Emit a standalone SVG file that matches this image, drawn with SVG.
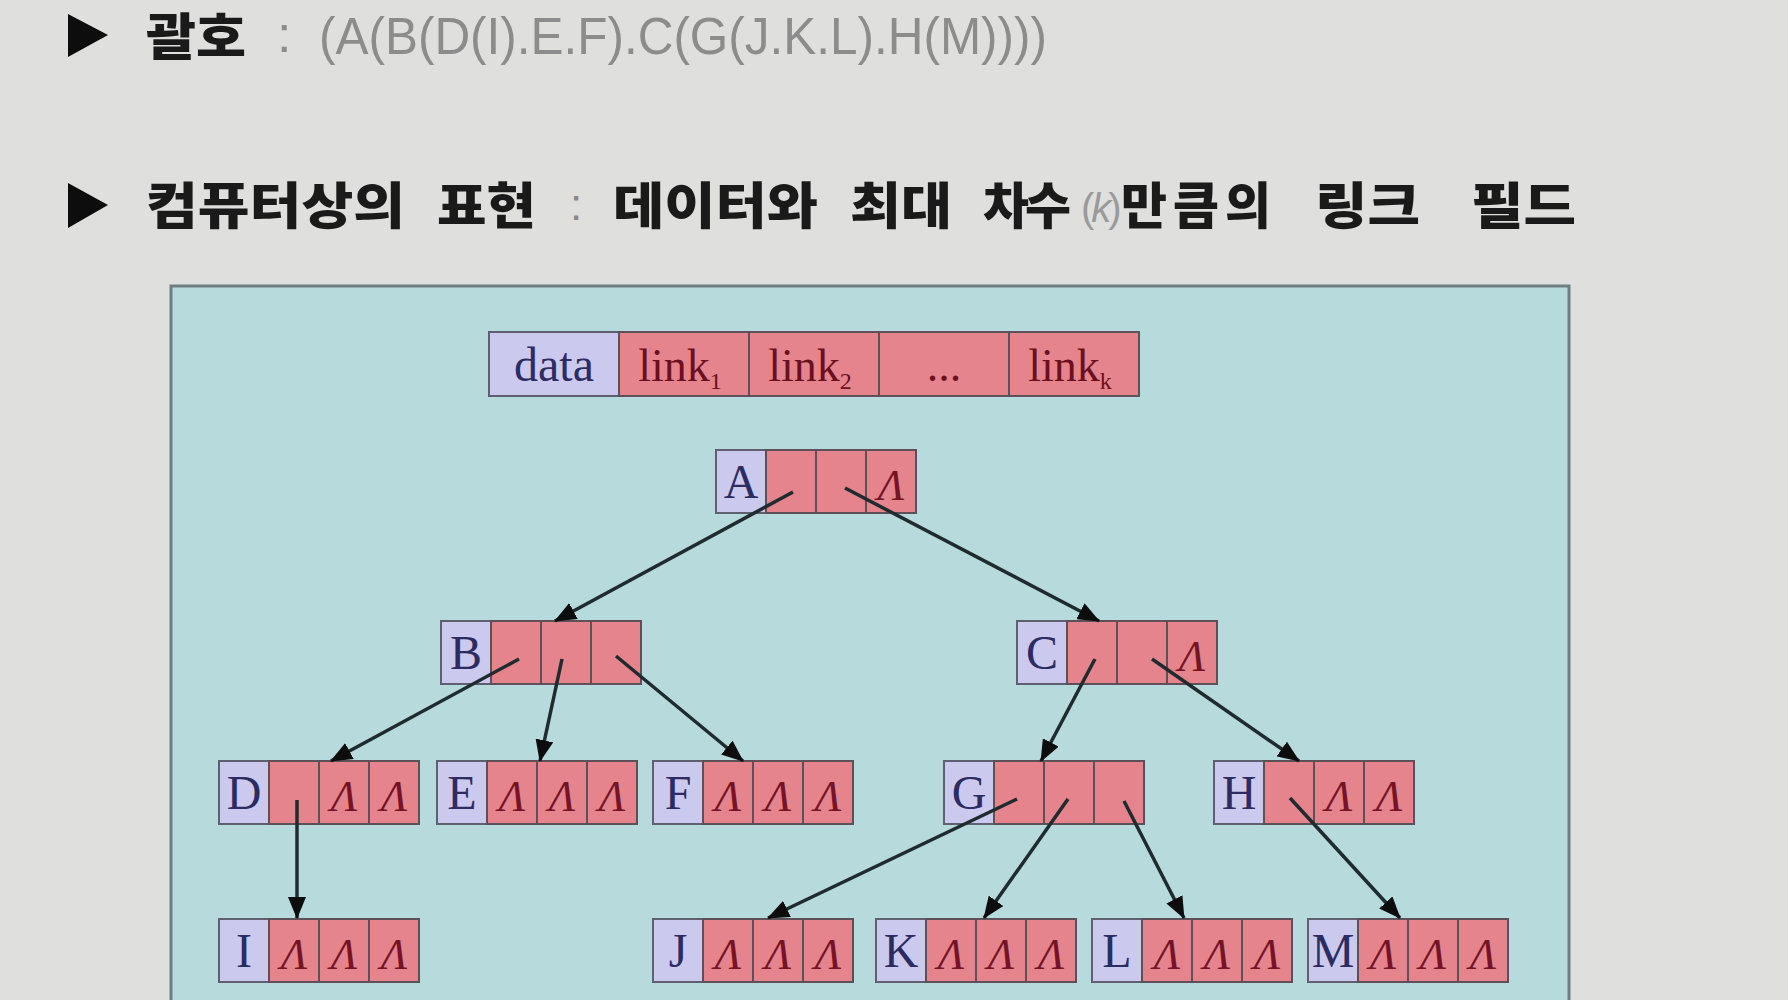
<svg xmlns="http://www.w3.org/2000/svg" width="1788" height="1000" viewBox="0 0 1788 1000">
<style>
.ko{font-family:"Noto Sans CJK KR","Noto Sans",sans-serif;font-weight:900;fill:#1a1a1a;font-size:50px}
.gray{font-family:"Liberation Sans",Arial,sans-serif;fill:#8c8c8c;font-size:52px}
.d{fill:#cbcaee;stroke:#5e6070;stroke-width:2}
.l{fill:#e5848c;stroke:#5e5058;stroke-width:2}
.lab{font-family:"Liberation Serif","Times New Roman",serif;font-size:48px;fill:#2c2c62;text-anchor:middle}
.lk{font-family:"Liberation Serif","Times New Roman",serif;font-size:46px;fill:#6a1020;text-anchor:middle}
.nil{font-family:"Liberation Serif","Times New Roman",serif;font-style:italic;font-size:44px;fill:#741426;text-anchor:middle}
.arr{stroke:#1f2b2e;stroke-width:3.5;fill:none;marker-end:url(#ah)}
</style>
<defs>
<marker id="ah" markerUnits="userSpaceOnUse" markerWidth="22" markerHeight="18" refX="21" refY="9" orient="auto">
<path d="M0,0 L22,9 L0,18 z" fill="#0d0d0d"/>
</marker>
<symbol id="node" overflow="visible">
<rect class="d" x="0" y="0" width="50" height="63"/>
<rect class="l" x="50" y="0" width="50" height="63"/>
<rect class="l" x="100" y="0" width="50" height="63"/>
<rect class="l" x="150" y="0" width="50" height="63"/>
</symbol>
</defs>
<rect x="0" y="0" width="1788" height="1000" fill="#dfdfde"/>

<g id="title1">
<polygon points="68,14 108,35 68,57" fill="#0d0d0d"/>
<text class="ko" x="146" y="55" textLength="100" lengthAdjust="spacingAndGlyphs">괄호</text>
<text class="gray" x="277" y="52">:</text>
<text class="gray" x="319" y="54" textLength="728" lengthAdjust="spacingAndGlyphs">(A(B(D(I).E.F).C(G(J.K.L).H(M))))</text>
</g>

<g id="title2">
<polygon points="68,183 108,205 68,228" fill="#0d0d0d"/>
<text class="ko" x="146" y="224" textLength="259" lengthAdjust="spacingAndGlyphs">컴퓨터상의</text>
<text class="ko" x="437" y="224" textLength="99" lengthAdjust="spacingAndGlyphs">표현</text>
<text x="570" y="220" font-family="Liberation Sans, sans-serif" font-size="44" fill="#8a8a8a">:</text>
<text class="ko" x="613" y="224" textLength="205" lengthAdjust="spacingAndGlyphs">데이터와</text>
<text class="ko" x="850" y="224" textLength="102" lengthAdjust="spacingAndGlyphs">최대</text>
<text class="ko" y="224"><tspan x="983" letter-spacing="-4">차수</tspan><tspan x="1081" y="222" font-family="Liberation Sans, sans-serif" font-weight="400" font-size="40" fill="#9a9a9a" letter-spacing="-3">(<tspan font-style="italic">k</tspan>)</tspan><tspan x="1121" y="224" letter-spacing="6">만큼의</tspan></text>
<text class="ko" x="1315" y="224" textLength="105" lengthAdjust="spacingAndGlyphs">링크</text>
<text class="ko" x="1471" y="224" textLength="105" lengthAdjust="spacingAndGlyphs">필드</text>
</g>

<rect id="panel" x="171" y="286" width="1398" height="730" fill="#b7dadc" stroke="#6e7e82" stroke-width="3"/>

<g id="header">
<rect class="d" x="489" y="332" width="130" height="64"/>
<rect class="l" x="619" y="332" width="130" height="64"/>
<rect class="l" x="749" y="332" width="130" height="64"/>
<rect class="l" x="879" y="332" width="130" height="64"/>
<rect class="l" x="1009" y="332" width="130" height="64"/>
<text class="lab" x="554" y="381">data</text>
<text class="lk" x="680" y="381">link<tspan font-size="24" dy="8">1</tspan></text>
<text class="lk" x="810" y="381">link<tspan font-size="24" dy="8">2</tspan></text>
<text class="lk" x="944" y="381">...</text>
<text class="lk" x="1070" y="381">link<tspan font-size="24" dy="8">k</tspan></text>
</g>

<g id="nA"><use href="#node" x="716" y="450"/><text class="lab" x="741" y="498">A</text><text class="nil" x="891" y="500">Λ</text></g>
<g id="nB"><use href="#node" x="441" y="621"/><text class="lab" x="466" y="669">B</text></g>
<g id="nC"><use href="#node" x="1017" y="621"/><text class="lab" x="1042" y="669">C</text><text class="nil" x="1192" y="671">Λ</text></g>
<g id="nD"><use href="#node" x="219" y="761"/><text class="lab" x="244" y="809">D</text><text class="nil" x="344" y="811">Λ</text><text class="nil" x="394" y="811">Λ</text></g>
<g id="nE"><use href="#node" x="437" y="761"/><text class="lab" x="462" y="809">E</text><text class="nil" x="512" y="811">Λ</text><text class="nil" x="562" y="811">Λ</text><text class="nil" x="612" y="811">Λ</text></g>
<g id="nF"><use href="#node" x="653" y="761"/><text class="lab" x="678" y="809">F</text><text class="nil" x="728" y="811">Λ</text><text class="nil" x="778" y="811">Λ</text><text class="nil" x="828" y="811">Λ</text></g>
<g id="nG"><use href="#node" x="944" y="761"/><text class="lab" x="969" y="809">G</text></g>
<g id="nH"><use href="#node" x="1214" y="761"/><text class="lab" x="1239" y="809">H</text><text class="nil" x="1339" y="811">Λ</text><text class="nil" x="1389" y="811">Λ</text></g>
<g id="nI"><use href="#node" x="219" y="919"/><text class="lab" x="244" y="967">I</text><text class="nil" x="294" y="969">Λ</text><text class="nil" x="344" y="969">Λ</text><text class="nil" x="394" y="969">Λ</text></g>
<g id="nJ"><use href="#node" x="653" y="919"/><text class="lab" x="678" y="967">J</text><text class="nil" x="728" y="969">Λ</text><text class="nil" x="778" y="969">Λ</text><text class="nil" x="828" y="969">Λ</text></g>
<g id="nK"><use href="#node" x="876" y="919"/><text class="lab" x="901" y="967">K</text><text class="nil" x="951" y="969">Λ</text><text class="nil" x="1001" y="969">Λ</text><text class="nil" x="1051" y="969">Λ</text></g>
<g id="nL"><use href="#node" x="1092" y="919"/><text class="lab" x="1117" y="967">L</text><text class="nil" x="1167" y="969">Λ</text><text class="nil" x="1217" y="969">Λ</text><text class="nil" x="1267" y="969">Λ</text></g>
<g id="nM"><use href="#node" x="1308" y="919"/><text class="lab" x="1333" y="967">M</text><text class="nil" x="1383" y="969">Λ</text><text class="nil" x="1433" y="969">Λ</text><text class="nil" x="1483" y="969">Λ</text></g>

<g id="connectors">
<line class="arr" x1="793" y1="492" x2="555" y2="621"/>
<line class="arr" x1="845" y1="488" x2="1099" y2="621"/>
<line class="arr" x1="519" y1="659" x2="331" y2="761"/>
<line class="arr" x1="562" y1="659" x2="540" y2="761"/>
<line class="arr" x1="616" y1="656" x2="743" y2="761"/>
<line class="arr" x1="1095" y1="659" x2="1041" y2="761"/>
<line class="arr" x1="1152" y1="659" x2="1299" y2="761"/>
<line class="arr" x1="297" y1="800" x2="297" y2="918"/>
<line class="arr" x1="1017" y1="799" x2="768" y2="918"/>
<line class="arr" x1="1068" y1="799" x2="984" y2="918"/>
<line class="arr" x1="1124" y1="801" x2="1184" y2="918"/>
<line class="arr" x1="1290" y1="798" x2="1400" y2="918"/>
</g>
</svg>
